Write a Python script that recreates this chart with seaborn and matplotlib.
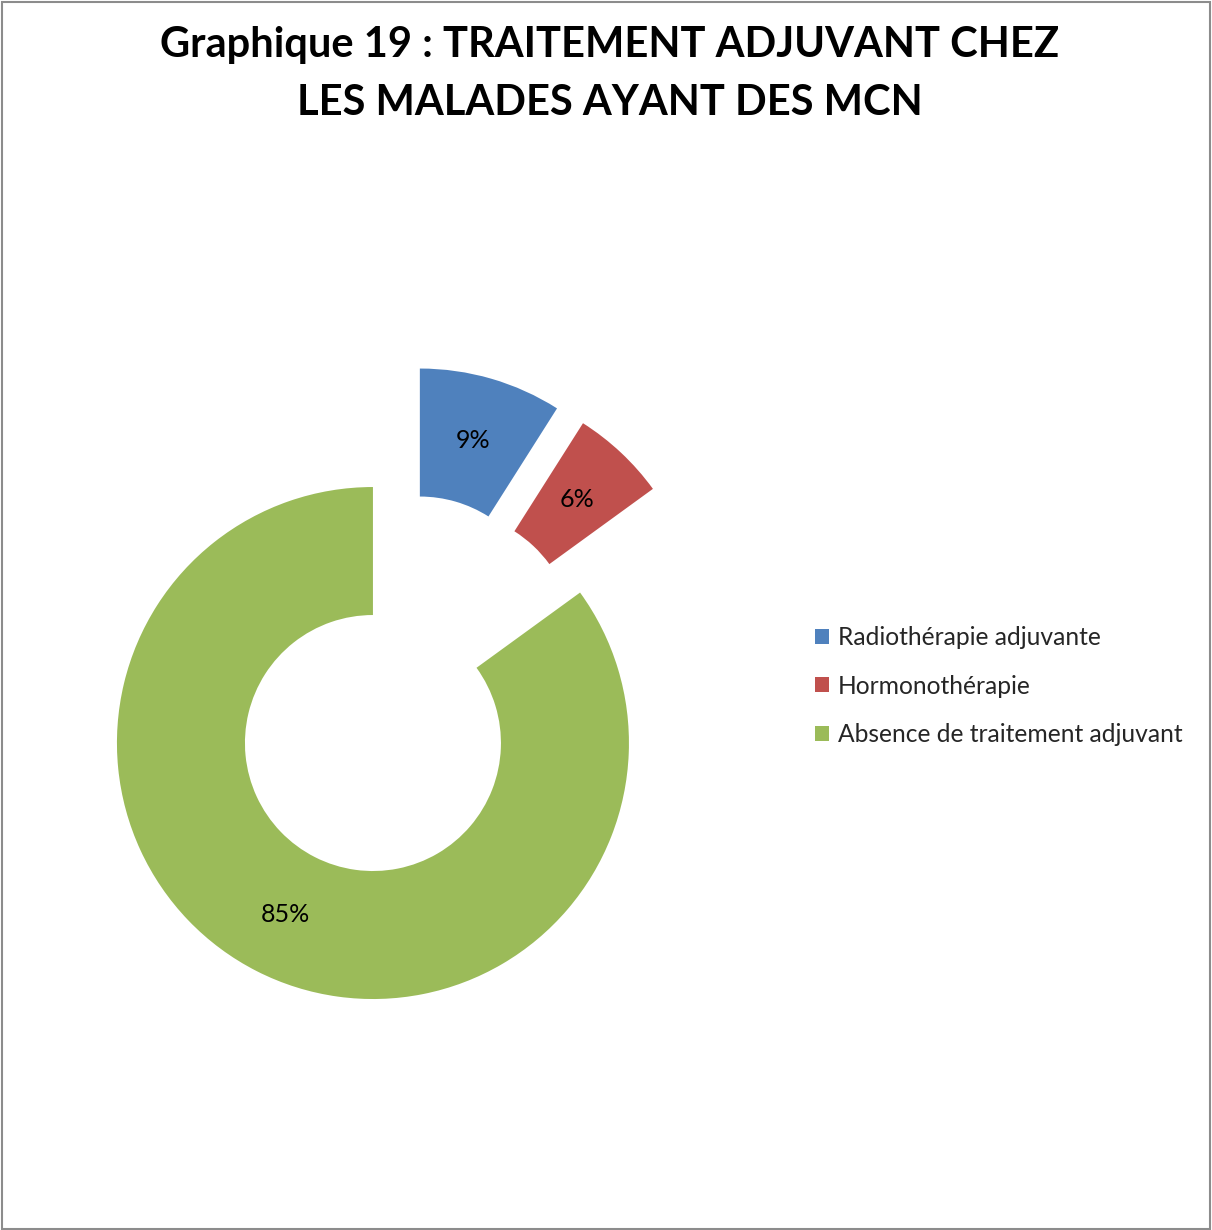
import matplotlib
matplotlib.use("Agg")
import matplotlib.pyplot as plt
import seaborn as sns
from matplotlib.patches import Rectangle

# Data
categories = ["Radiothérapie adjuvante", "Hormonothérapie", "Absence de traitement adjuvant"]
shares = [9, 6, 85]
title_lines = ["Graphique 19 : TRAITEMENT ADJUVANT CHEZ", "LES MALADES AYANT DES MCN"]

sns.set_theme(style="white")
plt.rcParams["font.family"] = ["Lato", "DejaVu Sans"]
colors = sns.color_palette(["#4F81BD", "#C0504D", "#9BBB59"])

W, H = 1212, 1230
fig = plt.figure(figsize=(W / 100, H / 100), dpi=100)
fig.patch.set_facecolor("white")
ax = fig.add_axes([0, 0, 1, 1])

R = 256
wedges, _, autotexts = ax.pie(
    shares,
    colors=colors,
    startangle=90,
    counterclock=False,
    radius=R,
    center=(402, H - 686),
    explode=[64, 64, 64],
    autopct=lambda p: f"{p:.0f}%",
    pctdistance=0.75,
    wedgeprops=dict(width=R / 2, edgecolor="none", linewidth=0),
    textprops=dict(fontsize=18, color="black"),
)
ax.set_xlim(0, W)
ax.set_ylim(0, H)
ax.set_aspect("equal")
ax.axis("off")

# Title, two centred lines
fig.text(610 / W, 1 - 45 / H, title_lines[0], ha="center", va="center",
         fontsize=30, fontweight="bold", color="black")
fig.text(610 / W, 1 - 103 / H, title_lines[1], ha="center", va="center",
         fontsize=30, fontweight="bold", color="black")

# Legend to the right of the ring
ax.legend(
    wedges, categories,
    loc="center left",
    bbox_to_anchor=(815 / W, 1 - 686 / H),
    bbox_transform=fig.transFigure,
    frameon=False,
    fontsize=17.7,
    handlelength=0.57,
    handleheight=0.57,
    handletextpad=0.37,
    labelspacing=1.03,
    borderpad=0,
    borderaxespad=0,
)

# Chart-area border
fig.add_artist(Rectangle((1.5 / W, 1.5 / H), (W - 4) / W, (H - 3.5) / H,
                         transform=fig.transFigure, fill=False,
                         edgecolor="#8c8c8c", linewidth=1.5))

fig.savefig("out.png", dpi=100, facecolor="white")
